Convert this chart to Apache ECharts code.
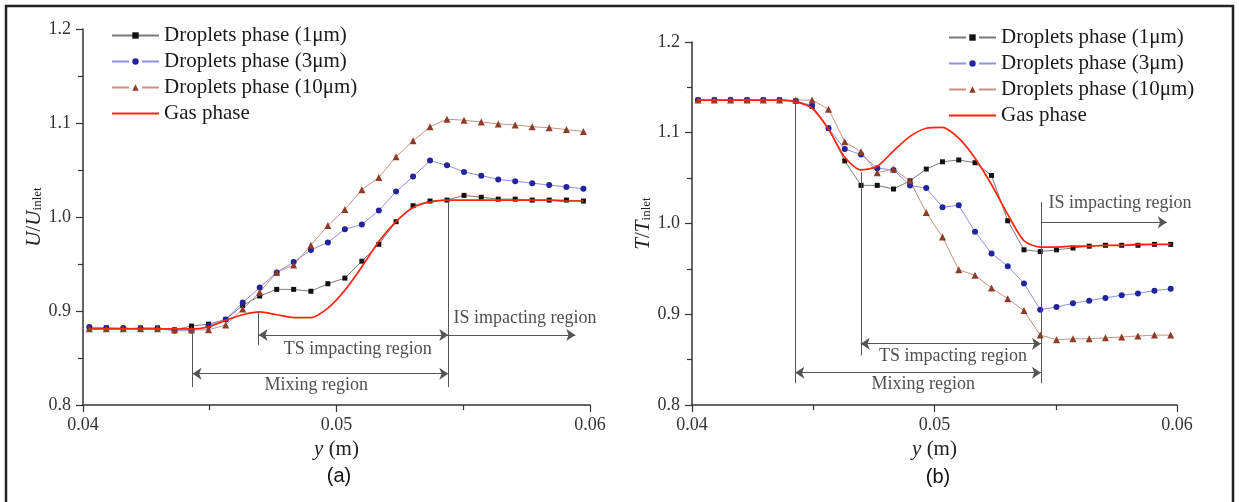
<!DOCTYPE html>
<html>
<head>
<meta charset="utf-8">
<script src="https://cdn.jsdelivr.net/npm/echarts@6/dist/echarts.min.js"></script>
<style>
  html, body { margin: 0; padding: 0; background: #fff; }
  #chart { width: 1239px; height: 502px; }
</style>
</head>
<body>
<div id="chart"></div>
<script>
// Sampling positions across the channel, y (m)
const yPos = [0.04025, 0.04092, 0.04159, 0.04227, 0.04294, 0.04361, 0.04428, 0.04495, 0.04563, 0.04630,
              0.04697, 0.04764, 0.04831, 0.04899, 0.04966, 0.05033, 0.05100, 0.05167, 0.05235, 0.05302,
              0.05369, 0.05436, 0.05503, 0.05571, 0.05638, 0.05705, 0.05772, 0.05839, 0.05907, 0.05974];

// (a) normalised velocity U/U_inlet
const u1um  = [0.882, 0.882, 0.881, 0.882, 0.882, 0.880, 0.884, 0.886, 0.891, 0.906,
               0.916, 0.923, 0.923, 0.921, 0.929, 0.935, 0.953, 0.971, 0.995, 1.012,
               1.017, 1.018, 1.023, 1.021, 1.019, 1.019, 1.018, 1.018, 1.018, 1.017];
const u3um  = [0.883, 0.882, 0.882, 0.881, 0.881, 0.879, 0.879, 0.884, 0.891, 0.909,
               0.925, 0.941, 0.952, 0.965, 0.973, 0.987, 0.992, 1.007, 1.027, 1.043,
               1.060, 1.055, 1.048, 1.044, 1.040, 1.038, 1.036, 1.034, 1.032, 1.030];
const u10um = [0.881, 0.881, 0.881, 0.881, 0.881, 0.880, 0.880, 0.880, 0.885, 0.902,
               0.920, 0.941, 0.949, 0.970, 0.991, 1.008, 1.029, 1.042, 1.064, 1.081,
               1.096, 1.104, 1.103, 1.101, 1.099, 1.098, 1.096, 1.095, 1.093, 1.091];
const uGas  = [0.881, 0.881, 0.881, 0.881, 0.881, 0.881, 0.881, 0.883, 0.890, 0.896,
               0.899, 0.896, 0.893, 0.893, 0.903, 0.922, 0.947, 0.974, 0.995, 1.010,
               1.016, 1.018, 1.018, 1.018, 1.018, 1.018, 1.018, 1.018, 1.017, 1.017];

// (b) normalised temperature T/T_inlet
const t1um  = [1.136, 1.136, 1.136, 1.136, 1.136, 1.136, 1.135, 1.129, 1.105, 1.069,
               1.042, 1.042, 1.038, 1.047, 1.060, 1.068, 1.070, 1.067, 1.053, 1.003,
               0.971, 0.969, 0.971, 0.973, 0.975, 0.976, 0.976, 0.976, 0.977, 0.977];
const t3um  = [1.136, 1.136, 1.136, 1.136, 1.136, 1.136, 1.135, 1.130, 1.105, 1.082,
               1.076, 1.061, 1.059, 1.042, 1.039, 1.018, 1.020, 0.991, 0.967, 0.953,
               0.934, 0.905, 0.908, 0.912, 0.915, 0.918, 0.921, 0.923, 0.926, 0.928];
const t10um = [1.136, 1.136, 1.136, 1.136, 1.136, 1.136, 1.136, 1.136, 1.126, 1.090,
               1.079, 1.056, 1.060, 1.047, 1.012, 0.985, 0.949, 0.943, 0.929, 0.917,
               0.904, 0.877, 0.872, 0.873, 0.873, 0.874, 0.875, 0.876, 0.877, 0.877];
const tGas  = [1.136, 1.136, 1.136, 1.136, 1.136, 1.136, 1.134, 1.127, 1.104, 1.073,
               1.059, 1.063, 1.080, 1.096, 1.105, 1.106, 1.094, 1.072, 1.043, 1.010,
               0.981, 0.974, 0.974, 0.975, 0.975, 0.976, 0.976, 0.977, 0.977, 0.977];

// Tick labels
const xTickLabels = ['0.04', '0.05', '0.06'];
const yTickLabels = ['0.8', '0.9', '1.0', '1.1', '1.2'];

// Region boundaries (y, m) and annotation levels for each panel
const regionA = { mixStart: 0.04432, tsStart: 0.04693, isStart: 0.05441, isEnd: 0.05942,
                  mixTop: 0.880, tsTop: 0.899, isTop: 1.018, lineBottom: 0.819, tsBottom: 0.864,
                  tsArrow: 0.8745, mixArrow: 0.8333,
                  tsText: [0.05084, 0.8589], mixText: [0.04920, 0.8206], isText: [0.05462, 0.8926] };
const regionB = { mixStart: 0.04426, tsStart: 0.04696, isStart: 0.05439, isEnd: 0.05958,
                  mixTop: 1.1365, tsTop: 1.0565, isTop: 1.0235, lineBottom: 0.8239, tsBottom: 0.8547,
                  isArrow: 1.0015, tsArrow: 0.8675, mixArrow: 0.8356,
                  tsText: [0.05076, 0.8532], mixText: [0.04954, 0.8228], isText: [0.05470, 1.0228] };

const names = ['Droplets phase (1\u03bcm)', 'Droplets phase (3\u03bcm)', 'Droplets phase (10\u03bcm)', 'Gas phase'];
const SERIF = '"Liberation Serif", "Times New Roman", serif';

const pair = (xs, ys) => xs.map((x, i) => [x, ys[i]]);

function curves(idx, d1, d3, d10, gas) {
  return [
    { name: names[0], type: 'line', xAxisIndex: idx, yAxisIndex: idx, data: pair(yPos, d1),
      symbol: 'rect', symbolSize: 5, itemStyle: { color: '#111' },
      lineStyle: { color: '#7a7a7a', width: 1 }, z: 3 },
    { name: names[1], type: 'line', xAxisIndex: idx, yAxisIndex: idx, data: pair(yPos, d3),
      symbol: 'circle', symbolSize: 6, itemStyle: { color: '#23239c' },
      lineStyle: { color: '#8f8fe6', width: 1 }, z: 3 },
    { name: names[2], type: 'line', xAxisIndex: idx, yAxisIndex: idx, data: pair(yPos, d10),
      symbol: 'triangle', symbolSize: 7, itemStyle: { color: '#8e3b28' },
      lineStyle: { color: '#c99282', width: 1 }, z: 3 },
    { name: names[3], type: 'line', xAxisIndex: idx, yAxisIndex: idx, data: pair(yPos, gas),
      symbol: 'none', smooth: 0.25, itemStyle: { color: '#ff2410' },
      lineStyle: { color: '#ff2410', width: 1.7 }, z: 4 }
  ];
}

function regionMarks(idx, r) {
  const isY = r.isArrow !== undefined ? r.isArrow : r.tsArrow;
  const arrow = { symbol: 'arrow' };
  const none = { symbol: 'none' };
  return {
    type: 'scatter', xAxisIndex: idx, yAxisIndex: idx, symbolSize: 0, silent: true, z: 2,
    data: [
      { value: [r.tsText[0], r.tsText[1], 'TS impacting region'] },
      { value: [r.mixText[0], r.mixText[1], 'Mixing region'] },
      { value: [r.isText[0], r.isText[1], 'IS impacting region'], label: { align: 'left' } }
    ],
    label: { show: true, position: 'inside', formatter: p => p.data.value[2],
             fontFamily: SERIF, fontSize: 18, color: '#222', align: 'center', verticalAlign: 'middle' },
    markLine: {
      silent: true, animation: false, symbolSize: 9,
      lineStyle: { color: '#555', width: 1, type: 'solid' },
      label: { show: false },
      emphasis: { disabled: true },
      data: [
        [Object.assign({ coord: [r.mixStart, r.mixTop] }, none), Object.assign({ coord: [r.mixStart, r.lineBottom] }, none)],
        [Object.assign({ coord: [r.tsStart, r.tsTop] }, none), Object.assign({ coord: [r.tsStart, r.tsBottom] }, none)],
        [Object.assign({ coord: [r.isStart, r.isTop] }, none), Object.assign({ coord: [r.isStart, r.lineBottom] }, none)],
        [Object.assign({ coord: [r.tsStart, r.tsArrow] }, arrow), Object.assign({ coord: [r.isStart, r.tsArrow] }, arrow)],
        [Object.assign({ coord: [r.mixStart, r.mixArrow] }, arrow), Object.assign({ coord: [r.isStart, r.mixArrow] }, arrow)],
        [Object.assign({ coord: [r.isStart, isY] }, none), Object.assign({ coord: [r.isEnd, isY] }, arrow)]
      ]
    }
  };
}

function xAxisCfg(idx) {
  return {
    type: 'value', gridIndex: idx, min: 0.04, max: 0.06, interval: 0.01,
    name: '{i|y} (m)', nameLocation: 'middle', nameGap: 31,
    nameTextStyle: { fontFamily: SERIF, fontSize: 21, color: '#222',
                     rich: { i: { fontFamily: SERIF, fontSize: 21, fontStyle: 'italic', color: '#222' } } },
    axisLine: { lineStyle: { color: '#333', width: 1.5 } },
    axisTick: { length: 7, lineStyle: { color: '#333', width: 1.2 } },
    minorTick: { show: true, splitNumber: 2, length: 5, lineStyle: { color: '#333', width: 1.2 } },
    splitLine: { show: false },
    axisLabel: { margin: 11, fontFamily: SERIF, fontSize: 18, color: '#333',
                 formatter: v => xTickLabels[Math.round((v - 0.04) / 0.01)] }
  };
}

function yAxisCfg(idx, sym) {
  return {
    type: 'value', gridIndex: idx, min: 0.8, max: 1.2, interval: 0.1,
    name: '{i|' + sym + '}/{i|' + sym + '}{s|inlet}', nameLocation: 'middle', nameRotate: 90, nameGap: 38,
    nameTextStyle: { fontFamily: SERIF, fontSize: 21, color: '#222',
                     rich: { i: { fontFamily: SERIF, fontSize: 21, fontStyle: 'italic', color: '#222', verticalAlign: 'top', lineHeight: 21 },
                             s: { fontFamily: SERIF, fontSize: 13, color: '#222', lineHeight: 21, padding: [6, 0, 0, 0] } } },
    axisLine: { show: true, lineStyle: { color: '#333', width: 1.5 } },
    axisTick: { length: 7, lineStyle: { color: '#333', width: 1.2 } },
    minorTick: { show: true, splitNumber: 2, length: 5, lineStyle: { color: '#333', width: 1.2 } },
    splitLine: { show: false },
    axisLabel: { margin: 12, fontFamily: SERIF, fontSize: 18, color: '#333',
                 formatter: v => yTickLabels[Math.round((v - 0.8) / 0.1)] }
  };
}

function legendCfg(left, top, firstDashed) {
  const gapped = { type: [17, 13] };
  return {
    orient: 'vertical', left: left, top: top, padding: 0,
    itemWidth: 47, itemHeight: 8, itemGap: 5,
    selectedMode: false,
    textStyle: { fontFamily: SERIF, fontSize: 21, color: '#1a1a1a' },
    data: [
      { name: names[0], lineStyle: firstDashed ? gapped : { type: 'solid' } },
      { name: names[1], lineStyle: gapped },
      { name: names[2], lineStyle: gapped },
      { name: names[3], itemStyle: { opacity: 0 } }
    ]
  };
}

const chart = echarts.init(document.getElementById('chart'), null, { renderer: 'canvas' });
chart.setOption({
  animation: false,
  backgroundColor: '#fff',
  grid: [
    { left: 83, top: 29, width: 507, height: 376 },
    { left: 692, top: 42, width: 485, height: 363 }
  ],
  xAxis: [xAxisCfg(0), xAxisCfg(1)],
  yAxis: [yAxisCfg(0, 'U'), yAxisCfg(1, 'T')],
  legend: [legendCfg(111, 25, false), legendCfg(948, 27, true)],
  graphic: [
    { type: 'rect', silent: true, z: -1, shape: { x: 6, y: 6, width: 1227, height: 520 },
      style: { fill: 'none', stroke: '#222', lineWidth: 2.5 } },
    { type: 'text', silent: true, x: 339, y: 476,
      style: { text: '(a)', font: '20px "Liberation Sans", Arial, sans-serif', fill: '#111', align: 'center', verticalAlign: 'middle' } },
    { type: 'text', silent: true, x: 938, y: 477,
      style: { text: '(b)', font: '20px "Liberation Sans", Arial, sans-serif', fill: '#111', align: 'center', verticalAlign: 'middle' } }
  ],
  series: [
    ...curves(0, u1um, u3um, u10um, uGas),
    regionMarks(0, regionA),
    ...curves(1, t1um, t3um, t10um, tGas),
    regionMarks(1, regionB)
  ]
});
</script>
</body>
</html>
